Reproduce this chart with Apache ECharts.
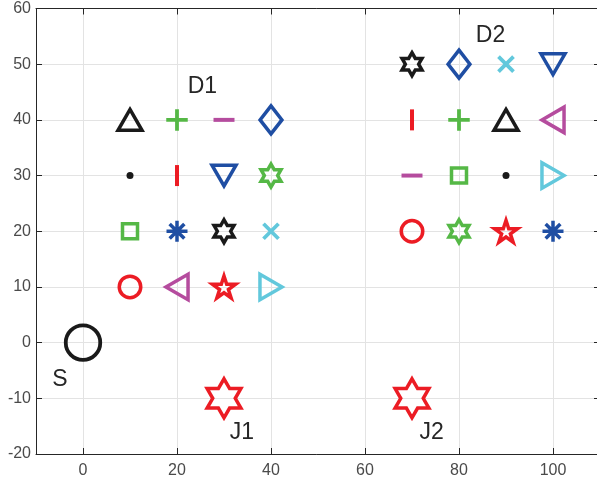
<!DOCTYPE html>
<html>
<head>
<meta charset="utf-8">
<script src="https://cdn.jsdelivr.net/npm/echarts@6/dist/echarts.min.js"></script>
<style>
  html, body { margin: 0; padding: 0; background: #ffffff; }
  #chart { width: 597px; height: 487px; }
</style>
</head>
<body>
<div id="chart"></div>
<script>
// Axis ranges and tick labels
const xRange = [-10, 110];
const xTicks = [0, 20, 40, 60, 80, 100];
const yRange = [-20, 60];
const yTicks = [-20, -10, 0, 10, 20, 30, 40, 50, 60];

// Node positions of the two 4x4 groups
const d1Points = [
  [10, 40], [20, 40], [30, 40], [40, 40],
  [10, 30], [20, 30], [30, 30], [40, 30],
  [10, 20], [20, 20], [30, 20], [40, 20],
  [10, 10], [20, 10], [30, 10], [40, 10]
];
const d2Points = [
  [70, 50], [80, 50], [90, 50], [100, 50],
  [70, 40], [80, 40], [90, 40], [100, 40],
  [70, 30], [80, 30], [90, 30], [100, 30],
  [70, 20], [80, 20], [90, 20], [100, 20]
];
// Source and jammers
const sourcePoints = [[0, 0]];
const jammerPoints = [[30, -10], [70, -10]];
// Text annotations
const labelNames = ['D1', 'D2', 'S', 'J1', 'J2'];
const labelPoints = [[25.4, 45.9], [86.7, 55.1], [-4.9, -6.6], [33.8, -16.1], [74.2, -16.1]];

// ---- styling ----
const COLORS = {
  k: '#1a1a1a',
  g: '#55b846',
  b: '#1f4ea3',
  r: '#ec1c24',
  m: '#b54c9e',
  c: '#62c8dc'
};

const HEX_PATH = 'path://M50,0L64.43,25L93.3,25L78.87,50L93.3,75L64.43,75L50,100L35.57,75L6.7,75L21.13,50L6.7,25L35.57,25Z';

const MARKERS = {
  triUp:    { symbol: 'path://M50,0L100,86.6L0,86.6Z', size: 24, width: 3.5 },
  triDown:  { symbol: 'path://M0,0L100,0L50,86.6Z', size: 24, width: 3.5 },
  triLeft:  { symbol: 'path://M86.6,0L86.6,100L0,50Z', size: 25.5, width: 3.5 },
  triRight: { symbol: 'path://M0,0L86.6,50L0,100Z', size: 25.5, width: 3.5 },
  diamond:  { symbol: 'path://M39,0L78,50L39,100L0,50Z', size: 28, width: 3.5 },
  plus:     { symbol: 'path://M50,0L50,100M0,50L100,50', size: 21.5, width: 3.8 },
  cross:    { symbol: 'path://M0,0L100,100M100,0L0,100', size: 15, width: 3.8 },
  star:     { symbol: 'path://M50,0L50,100M0,50L100,50M15,15L85,85M85,15L15,85', size: 21, width: 3.5 },
  hbar:     { symbol: 'path://M0,0L100,0L100,19L0,19Z', size: 21, fill: true },
  vbar:     { symbol: 'path://M0,0L19,0L19,100L0,100Z', size: 21, fill: true },
  square:   { symbol: 'path://M0,0L100,0L100,100L0,100Z', size: 15, width: 3.5 },
  circle:   { symbol: 'circle', size: 21.5, width: 3.5 },
  dot:      { symbol: 'circle', size: 7, fill: true },
  hexagram: { symbol: HEX_PATH, size: 23, width: 3.5 },
  pentagram:{ symbol: 'path://M50,0L61.23,34.55L97.55,34.55L68.17,55.9L79.39,90.45L50,69.1L20.61,90.45L31.83,55.9L2.45,34.55L38.77,34.55Z', size: 23, width: 3.5 },
  bigCircle:{ symbol: 'circle', size: 34.5, width: 3.8 },
  bigHex:   { symbol: HEX_PATH, size: 39, width: 3.5 }
};

// Marker/colour assignment, in the same order as the point lists
const d1Style = [
  'triUp:k', 'plus:g', 'hbar:m', 'diamond:b',
  'dot:k', 'vbar:r', 'triDown:b', 'hexagram:g',
  'square:g', 'star:b', 'hexagram:k', 'cross:c',
  'circle:r', 'triLeft:m', 'pentagram:r', 'triRight:c'
];
const d2Style = [
  'hexagram:k', 'diamond:b', 'cross:c', 'triDown:b',
  'vbar:r', 'plus:g', 'triUp:k', 'triLeft:m',
  'hbar:m', 'square:g', 'dot:k', 'triRight:c',
  'circle:r', 'hexagram:g', 'pentagram:r', 'star:b'
];
const sourceStyle = ['bigCircle:k'];
const jammerStyle = ['bigHex:r', 'bigHex:r'];

function styledItems(points, styles) {
  return points.map(function (p, i) {
    const parts = styles[i].split(':');
    const mk = MARKERS[parts[0]];
    const col = COLORS[parts[1]];
    const itemStyle = mk.fill
      ? { color: col, borderWidth: 0, opacity: 1 }
      : { color: 'rgba(0,0,0,0)', borderColor: col, borderWidth: mk.width, opacity: 1,
          borderJoin: 'miter', borderMiterLimit: 10, borderCap: 'butt' };
    return { value: p, symbol: mk.symbol, symbolSize: mk.size, itemStyle: itemStyle };
  });
}

function scatterSeries(name, points, styles) {
  return {
    name: name,
    type: 'scatter',
    xAxisIndex: 0,
    yAxisIndex: 0,
    symbolKeepAspect: true,
    silent: true,
    z: 3,
    itemStyle: { opacity: 1 },
    data: styledItems(points, styles)
  };
}

const AXIS_COLOR = '#262626';
const LABEL_COLOR = '#4a4a4a';
const GRID_COLOR = '#e3e3e3';
const FONT = 'Liberation Sans, Arial, Helvetica, sans-serif';

const chart = echarts.init(document.getElementById('chart'), null, { renderer: 'canvas' });

const option = {
  animation: false,
  backgroundColor: '#ffffff',
  grid: {
    left: 36,
    top: 8.5,
    width: 564,
    height: 445.5,
    containLabel: false,
    outerBoundsMode: 'none'
  },
  xAxis: [
    {
      type: 'value',
      min: xRange[0],
      max: xRange[1],
      position: 'bottom',
      axisLine: { show: true, onZero: false, lineStyle: { color: AXIS_COLOR, width: 1 } },
      axisTick: { show: true, inside: true, length: 6, customValues: xTicks, lineStyle: { color: AXIS_COLOR } },
      axisLabel: { show: true, customValues: xTicks, color: LABEL_COLOR, fontSize: 16, fontFamily: FONT, margin: 9 },
      splitLine: { show: true, lineStyle: { color: GRID_COLOR, width: 1 } }
    },
    {
      type: 'value',
      min: xRange[0],
      max: xRange[1],
      position: 'top',
      axisLine: { show: true, onZero: false, lineStyle: { color: AXIS_COLOR, width: 1 } },
      axisTick: { show: true, inside: true, length: 6, customValues: xTicks, lineStyle: { color: AXIS_COLOR } },
      axisLabel: { show: false },
      splitLine: { show: false }
    }
  ],
  yAxis: [
    {
      type: 'value',
      min: yRange[0],
      max: yRange[1],
      interval: 10,
      position: 'left',
      axisLine: { show: true, onZero: false, lineStyle: { color: AXIS_COLOR, width: 1 } },
      axisTick: { show: true, inside: true, length: 6, lineStyle: { color: AXIS_COLOR } },
      axisLabel: {
        show: true, color: LABEL_COLOR, fontSize: 16, fontFamily: FONT, margin: 5,
        customValues: yTicks
      },
      splitLine: { show: true, lineStyle: { color: GRID_COLOR, width: 1 } }
    },
    {
      type: 'value',
      min: yRange[0],
      max: yRange[1],
      interval: 10,
      position: 'right',
      axisLine: { show: true, onZero: false, lineStyle: { color: AXIS_COLOR, width: 1 } },
      axisTick: { show: true, inside: true, length: 6, lineStyle: { color: AXIS_COLOR } },
      axisLabel: { show: false },
      splitLine: { show: false }
    }
  ],
  series: [
    scatterSeries('D1', d1Points, d1Style),
    scatterSeries('D2', d2Points, d2Style),
    scatterSeries('S', sourcePoints, sourceStyle),
    scatterSeries('J', jammerPoints, jammerStyle),
    {
      name: 'labels',
      type: 'scatter',
      silent: true,
      symbol: 'circle',
      symbolSize: 1,
      itemStyle: { color: 'rgba(0,0,0,0)', opacity: 1 },
      z: 4,
      label: {
        show: true,
        position: 'inside',
        formatter: '{b}',
        color: '#262626',
        fontSize: 23,
        fontFamily: FONT
      },
      data: labelPoints.map(function (p, i) { return { name: labelNames[i], value: p }; })
    }
  ]
};

chart.setOption(option);
</script>
</body>
</html>
